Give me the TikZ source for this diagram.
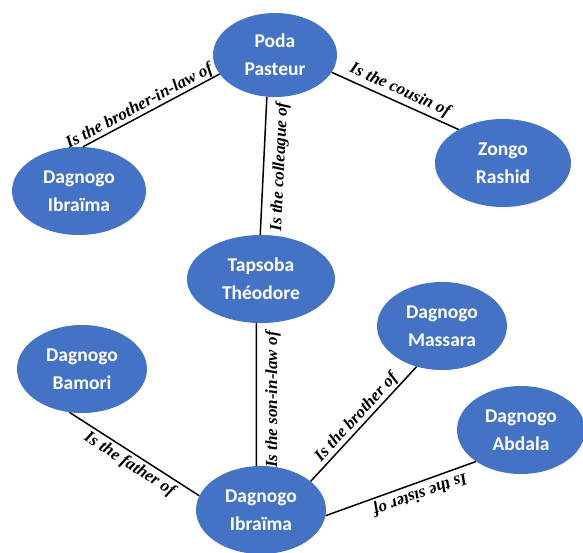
\documentclass[tikz,border=0pt]{standalone}
\usepackage{fontspec}
\setmainfont{Liberation Serif}
\newfontfamily\nodefont{Carlito}
\usetikzlibrary{shapes.geometric}
\definecolor{nodeblue}{HTML}{4472C4}
\begin{document}
\begin{tikzpicture}[x=1pt,y=-1pt,
 person/.style={ellipse, fill=nodeblue, text=white, inner sep=0pt, align=center,
   minimum width=130pt, minimum height=88pt,
   font=\nodefont\bfseries\fontsize{19.5}{28}\selectfont},
 rel/.style={line width=1.5pt, black},
 lab/.style={sloped, font=\bfseries\itshape\fontsize{17}{20}\selectfont, text=black, inner sep=#1},
 lab/.default=2pt
]
\useasboundingbox (0,0) rectangle (583,552);
\node[person, minimum width=124pt, minimum height=84pt] (poda) at (275,55) {Poda\\Pasteur};
\node[person, minimum width=134pt] (ibr1) at (79,191) {Dagnogo\\Ibraïma};
\node[person, minimum width=136pt] (zongo) at (503,163) {Zongo\\Rashid};
\node[person, minimum width=148pt] (tapsoba) at (261,279) {Tapsoba\\Théodore};
\node[person] (massara) at (442,326) {Dagnogo\\Massara};
\node[person] (bamori) at (82,369) {Dagnogo\\Bamori};
\node[person, minimum width=128pt] (abdala) at (521,430) {Dagnogo\\Abdala};
\node[person] (ibr2) at (261,510) {Dagnogo\\Ibraïma};

\draw[rel] (ibr1.85) -- node[lab=0.5pt, above, pos=0.446]{Is the brother-in-law of} (poda.199);
\draw[rel] (poda.343) -- node[lab=3pt, above, pos=0.5]{Is the cousin of} (zongo.143);
\draw[rel] (tapsoba.91) -- node[lab=8pt, below, pos=0.5, allow upside down]{Is the colleague of} (poda.259);
\draw[rel] (ibr2.96) -- node[lab=8pt, below, pos=0.465, allow upside down]{Is the son-in-law of} (tapsoba.264);
\draw[rel] (bamori.254) -- node[lab=3pt, below, pos=0.51]{Is the father of} (ibr2.167);
\draw[rel] (ibr2.30) -- node[lab=1pt, above, pos=0.5]{Is the brother of} (massara.238);
\draw[rel] (abdala.215) -- node[lab=3pt, above, pos=0.4, allow upside down]{Is the sister of} (ibr2.355);
\end{tikzpicture}
\end{document}
